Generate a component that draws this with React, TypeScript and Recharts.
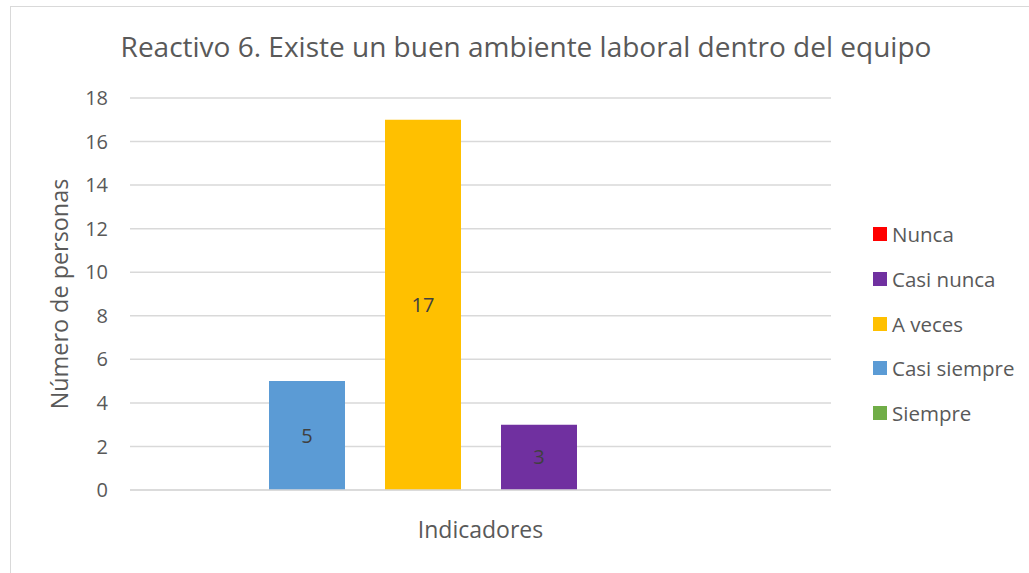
import { BarChart, Bar, XAxis, YAxis, CartesianGrid, Legend, LabelList } from 'recharts';

// bars left to right (the last one is an empty spacer series Excel kept in the chart)
const seriesNames = ['Siempre', 'Casi siempre', 'A veces', 'Casi nunca', 'Nunca', ''];
const seriesValues = [0, 5, 17, 3, 0, 0];
const legendOrder = ['Nunca', 'Casi nunca', 'A veces', 'Casi siempre', 'Siempre'];
const yTicks = [0, 2, 4, 6, 8, 10, 12, 14, 16, 18];
const categories = [''];

const colors = ['#70ad47', '#5b9bd5', '#ffc000', '#7030a0', '#ff0000', '#ffffff'];
const FONT = '"Open Sans", Lato, sans-serif';
const TEXT = '#595959';

const data = categories.map((name) => {
  const row: Record<string, string | number> = { name };
  seriesValues.forEach((v, i) => {
    row[`s${i}`] = v;
  });
  return row;
});

function LegendBox(props: any) {
  const payload = props.payload || [];
  const items = legendOrder
    .map((n) => payload.find((p: any) => p.value === n))
    .filter(Boolean);
  return (
    <div style={{ fontFamily: FONT }}>
      {items.map((p: any) => (
        <div key={p.value} style={{ height: 44.8, display: 'flex', alignItems: 'center' }}>
          <span style={{ width: 14, height: 14, background: p.color, display: 'inline-block', marginRight: 5 }} />
          <span style={{ fontSize: 20.5, color: TEXT }}>{p.value}</span>
        </div>
      ))}
    </div>
  );
}

export default function App() {
  return (
    <div style={{ position: 'fixed', left: 0, top: 0, width: 1029, height: 573, overflow: 'hidden', background: '#fff' }}>
      <div style={{ position: 'absolute', left: 10, top: 6, width: 1100, height: 700, border: '1px solid #d9d9d9' }} />
      <div
        style={{
          position: 'absolute',
          left: 0,
          top: 32,
          width: 1052,
          textAlign: 'center',
          fontFamily: FONT,
          fontSize: 28,
          lineHeight: 1,
          color: TEXT,
          whiteSpace: 'nowrap',
        }}
      >
        Reactivo 6. Existe un buen ambiente laboral dentro del equipo
      </div>
      <div style={{ position: 'absolute', left: 0, top: 0 }}>
        <BarChart
          width={1029}
          height={573}
          data={data}
          margin={{ top: 98, right: 198, bottom: 0, left: 10 }}
          barSize={76}
          barGap={40}
          style={{ fontFamily: FONT }}
        >
          <CartesianGrid vertical={false} stroke="#d9d9d9" strokeWidth={1.5} />
          <XAxis
            dataKey="name"
            tick={false}
            tickLine={false}
            axisLine={{ stroke: '#d9d9d9', strokeWidth: 1.5 }}
            height={83}
            label={{ value: 'Indicadores', position: 'center', dy: -2, fill: TEXT, fontSize: 23, fontFamily: FONT }}
          />
          <YAxis
            domain={[0, 18]}
            ticks={yTicks}
            width={120}
            axisLine={false}
            tickLine={false}
            tickMargin={16}
            tick={{ fill: TEXT, fontSize: 20, fontFamily: FONT }}
            label={{
              value: 'Número de personas',
              angle: -90,
              position: 'center',
              dx: -10,
              fill: TEXT,
              fontSize: 23.4,
              fontFamily: FONT,
            }}
          />
          <Legend
            layout="horizontal"
            align="center"
            verticalAlign="middle"
            content={<LegendBox />}
            wrapperStyle={{ left: 873, top: 211.6, width: 156 }}
          />
          {seriesNames.map((name, i) => (
            <Bar
              key={i}
              dataKey={`s${i}`}
              name={name}
              fill={colors[i]}
              legendType={name === '' ? 'none' : 'square'}
              isAnimationActive={false}
            >
              <LabelList
                dataKey={`s${i}`}
                position="center"
                fill="#404040"
                fontSize={20}
                fontFamily={FONT}
                formatter={(v: any) => (v ? v : '')}
              />
            </Bar>
          ))}
        </BarChart>
      </div>
    </div>
  );
}
